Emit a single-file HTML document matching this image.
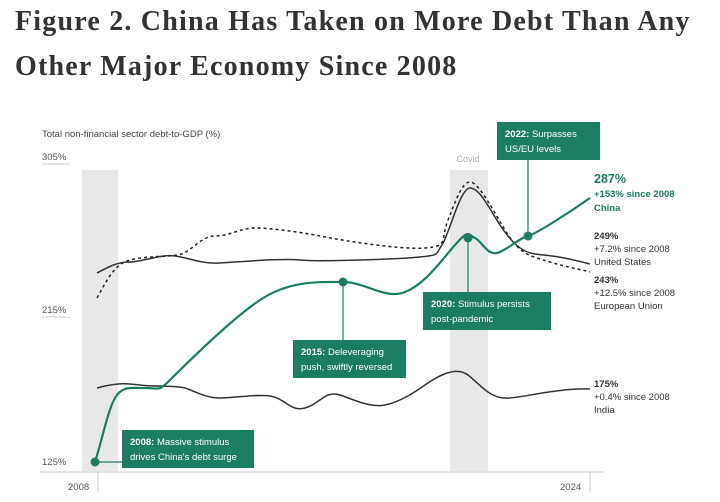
<!DOCTYPE html>
<html><head><meta charset="utf-8"><style>
body{margin:0;background:#fff;width:720px;height:502px;overflow:hidden}
.t{position:absolute;left:15px;font-family:"Liberation Serif",serif;font-size:28px;font-weight:bold;color:#333;letter-spacing:1.2px;white-space:nowrap}
</style></head><body>
<div class="t" style="top:6px">Figure 2. China Has Taken on More Debt Than Any</div>
<div class="t" style="top:51px">Other Major Economy Since 2008</div>
<svg width="720" height="502" style="position:absolute;left:0;top:0" font-family="Liberation Sans, sans-serif">
<rect x="82" y="170" width="36" height="302" fill="#e8e8e8"/>
<rect x="450" y="170" width="38" height="302" fill="#e8e8e8"/>
<text x="468" y="162" font-size="9" fill="#aaa" text-anchor="middle">Covid</text>
<text x="42" y="137" font-size="9.5" fill="#444">Total non-financial sector debt-to-GDP (%)</text>
<g font-size="9.5" fill="#555">
<text x="42" y="160">305%</text><line x1="42" y1="164" x2="70" y2="164" stroke="#ccc"/>
<text x="42" y="313">215%</text><line x1="42" y1="317" x2="70" y2="317" stroke="#ccc"/>
<text x="42" y="465">125%</text>
<text x="68" y="490">2008</text><text x="560" y="490">2024</text>
</g>
<line x1="40" y1="472" x2="605" y2="472" stroke="#ddd" stroke-width="1.5"/>
<line x1="98" y1="472" x2="98" y2="492" stroke="#ccc"/>
<line x1="590" y1="472" x2="590" y2="492" stroke="#ccc"/>
<path d="M97,273 C110,266 118,262 130,262 S160,254 175,256 S200,264 220,263 S280,258 300,260 S400,259 420,257 S435,255 442,245 S460,188 470,188 S490,210 500,225 S520,252 535,254 S560,256 590,264" fill="none" stroke="#333" stroke-width="1.5"/>
<path d="M97,298 C108,278 115,264 130,260 S165,257 178,255 S200,236 215,236 S240,228 255,228 S300,232 320,236 S400,250 425,248 S440,240 448,220 S462,182 470,182 S490,205 505,230 S530,256 550,262 S575,268 590,272" fill="none" stroke="#222" stroke-width="1.5" stroke-dasharray="3,3"/>
<path d="M97,388 C115,383 125,383 140,385 S175,385 185,388 S205,398 220,398 S255,394 270,396 S290,412 305,408 S325,390 340,395 S370,408 385,405 S415,392 425,385 S455,365 468,375 S490,400 510,398 S560,388 590,389" fill="none" stroke="#333" stroke-width="1.5"/>
<path d="M95,462 C102,440 108,410 115,398 S130,388 145,388 S158,392 170,380 S230,320 260,300 S320,282 343,282 S385,300 405,292 S440,262 455,245 S468,235 475,238 S488,258 500,252 S520,238 528,236 S570,212 590,198" fill="none" stroke="#1b7d62" stroke-width="2.2"/>
<g fill="#1b7d62">
<circle cx="95" cy="462" r="4.5"/><circle cx="343" cy="282" r="4.5"/><circle cx="468" cy="238" r="4.5"/><circle cx="528" cy="236" r="4.5"/>
</g>
<g stroke="#1b7d62" stroke-width="1.2">
<line x1="95" y1="462" x2="122" y2="462"/><line x1="343" y1="282" x2="343" y2="340"/><line x1="468" y1="238" x2="468" y2="292"/><line x1="528" y1="236" x2="528" y2="160"/>
</g>
<g fill="#1b7d62">
<rect x="122" y="430" width="132" height="38"/><rect x="293" y="340" width="113" height="38"/><rect x="423" y="292" width="128" height="38"/><rect x="497" y="122" width="103" height="38"/>
</g>
<g fill="#fff" font-size="9.5">
<text x="130" y="445"><tspan font-weight="bold">2008:</tspan> Massive stimulus</text><text x="130" y="460">drives China's debt surge</text>
<text x="301" y="355"><tspan font-weight="bold">2015:</tspan> Deleveraging</text><text x="301" y="370">push, swiftly reversed</text>
<text x="431" y="307"><tspan font-weight="bold">2020:</tspan> Stimulus persists</text><text x="431" y="322">post-pandemic</text>
<text x="505" y="137"><tspan font-weight="bold">2022:</tspan> Surpasses</text><text x="505" y="152">US/EU levels</text>
</g>
<g font-size="9.5" fill="#1b7d62" font-weight="bold">
<text x="594" y="183" font-size="12.5">287%</text><text x="594" y="197">+153% since 2008</text><text x="594" y="211">China</text>
</g>
<g font-size="9.5" fill="#333">
<text x="594" y="239" font-weight="bold">249%</text><text x="594" y="252">+7.2% since 2008</text><text x="594" y="265">United States</text>
<text x="594" y="283" font-weight="bold">243%</text><text x="594" y="296">+12.5% since 2008</text><text x="594" y="309">European Union</text>
<text x="594" y="387" font-weight="bold">175%</text><text x="594" y="400">+0.4% since 2008</text><text x="594" y="413">India</text>
</g>
</svg>
</body></html>
